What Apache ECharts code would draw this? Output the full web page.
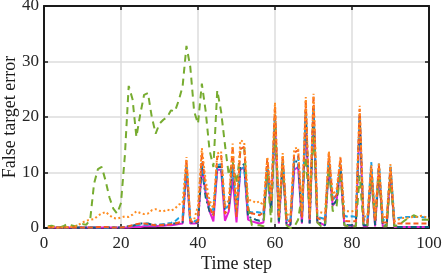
<!DOCTYPE html>
<html>
<head>
<meta charset="utf-8">
<script src="https://cdn.jsdelivr.net/npm/echarts@6/dist/echarts.min.js"></script>
<style>
html,body{margin:0;padding:0;background:#fff;}
#c{width:443px;height:276px;}
</style>
</head>
<body>
<div id="c"></div>
<script>
// Time steps 1..100
var steps = Array.from({length: 100}, function (_, i) { return i + 1; });

var xTicks = [0, 20, 40, 60, 80, 100];
var yTicks = [0, 10, 20, 30, 40];

// Magenta solid
var seriesM = [
  0.1,0.1,0.1,0.1,0.1,0.1,0.1,0.1,0.1,0.1,
  0.1,0.1,0.1,0.1,0.1,0.1,0.1,0.1,0.1,0.1,
  0.1,0.1,0.2,0.2,0.2,0.3,0.3,0.3,0.3,0.4,
  0.4,0.5,0.5,0.6,0.7,0.8,10.5,0.8,0.8,0.9,
  11.0,6.2,3.0,1.2,10.5,10.5,1.3,3.0,9.0,1.0,
  10.5,11.0,1.5,1.2,1.0,0.8,1.0,10.5,3.0,19.5,
  0.8,11.5,0.6,0.5,10.5,11.0,0.8,20.0,0.8,20.5,
  1.0,0.8,0.5,11.0,4.0,5.0,10.5,0.5,0.4,0.4,
  0.4,19.5,0.3,0.3,10.0,0.3,10.0,0.3,0.3,10.0,
  0.2,0.2,0.2,0.2,0.2,0.2,0.2,0.2,0.2,0.2
];
// Dark teal dash-dot
var seriesT = [
  0.1,0.1,0.1,0.1,0.1,0.1,0.1,0.1,0.1,0.1,
  0.1,0.1,0.1,0.1,0.1,0.1,0.1,0.1,0.1,0.1,
  0.2,0.3,0.4,0.6,0.8,0.8,0.8,0.6,0.6,0.6,
  0.6,0.7,0.8,0.8,0.9,1.0,11.0,1.0,0.9,1.0,
  11.0,5.5,3.0,2.5,11.0,11.0,3.4,3.5,11.5,3.0,
  11.0,11.5,2.0,1.8,1.5,1.3,1.5,11.0,3.0,20.0,
  1.0,12.0,0.8,0.6,12.0,12.0,1.0,21.0,0.8,21.5,
  1.0,0.8,0.5,12.0,4.0,5.0,11.0,0.7,0.5,0.5,
  0.5,20.0,0.5,0.5,10.5,0.5,10.8,0.5,0.5,10.5,
  0.3,0.2,0.2,0.2,0.2,0.2,0.2,0.2,0.2,0.2
];
// Light blue dashed
var seriesB = [
  0.1,0.1,0.1,0.1,0.1,0.1,0.1,0.1,0.1,0.1,
  0.1,0.1,0.1,0.1,0.1,0.1,0.1,0.1,0.1,0.1,
  0.2,0.3,0.4,0.5,0.6,0.6,0.6,0.5,0.5,0.6,
  0.7,0.8,0.9,1.2,1.8,2.0,11.4,1.5,1.2,1.5,
  12.0,6.5,4.0,3.2,11.3,11.5,3.5,4.0,11.2,2.8,
  10.5,11.0,3.0,2.8,2.9,2.8,2.6,11.2,5.0,20.5,
  2.0,12.2,1.5,1.4,12.5,12.8,2.0,21.2,1.8,21.6,
  2.0,1.8,1.6,12.0,5.0,6.0,11.6,2.2,2.0,2.1,
  2.0,20.3,1.5,1.5,11.9,1.5,11.6,1.5,1.4,11.3,
  1.5,1.8,1.9,2.0,2.0,2.0,2.0,2.0,1.9,1.9
];
// Green dashed
var seriesG = [
  0.3,0.4,0.2,0.1,0.3,0.7,0.5,0.3,0.5,0.7,
  0.6,1.5,8.0,10.6,11.0,8.5,5.5,3.5,2.6,4.5,
  13.0,25.6,23.2,16.4,20.5,24.0,24.3,20.0,17.0,18.8,
  19.5,20.0,21.2,21.0,23.0,25.5,32.8,29.0,21.0,18.8,
  26.0,21.0,14.0,11.0,24.8,21.0,15.0,9.5,12.0,8.0,
  13.8,14.5,4.0,0.5,0.5,0.5,0.3,10.0,1.0,19.0,
  1.8,11.5,0.5,0.0,0.2,1.5,6.0,12.8,3.0,18.0,
  1.0,0.3,0.5,11.0,3.0,4.0,10.0,0.5,0.3,0.3,
  0.3,9.5,0.3,0.5,9.0,1.0,9.5,0.3,0.3,9.0,
  0.3,0.5,1.0,1.5,1.8,2.3,2.0,1.5,1.5,1.5
];
// Red-orange dashed
var seriesR = [
  0.1,0.1,0.1,0.1,0.1,0.1,0.1,0.1,0.1,0.1,
  0.1,0.1,0.1,0.2,0.2,0.2,0.1,0.1,0.1,0.1,
  0.2,0.3,0.5,0.7,0.8,0.8,0.7,0.6,0.5,0.5,
  0.6,0.6,0.7,0.8,1.0,1.3,12.3,1.3,1.0,1.2,
  13.6,7.0,3.8,2.2,12.8,13.2,2.6,3.5,14.6,2.0,
  14.2,14.6,3.0,2.6,2.5,2.3,2.8,12.5,4.8,22.0,
  1.8,13.0,1.3,1.2,13.6,14.0,1.8,23.0,1.6,23.8,
  1.8,1.5,1.5,13.6,5.0,6.0,12.6,1.3,1.2,1.2,
  1.2,21.5,1.0,1.0,11.0,1.2,11.3,1.0,1.0,11.0,
  0.8,0.8,0.8,0.8,0.8,0.8,0.8,0.8,0.8,0.8
];
// Orange dotted
var seriesO = [
  0.2,0.2,0.1,0.1,0.1,0.2,0.2,0.3,0.6,1.0,
  1.3,1.5,1.6,2.2,2.6,2.9,2.3,1.8,1.7,1.9,
  2.1,2.0,2.4,3.0,2.7,2.5,2.6,3.2,3.4,3.1,
  3.0,3.3,3.1,3.5,4.2,4.5,12.8,1.6,1.5,4.0,
  14.4,8.5,5.0,3.5,13.4,13.8,4.0,5.0,15.2,3.5,
  15.8,15.5,5.0,5.0,4.5,4.8,4.0,12.8,5.5,22.6,
  2.5,13.5,2.5,2.2,14.3,14.5,3.0,23.6,2.5,24.2,
  3.0,2.8,2.6,13.8,6.0,7.0,12.8,3.0,3.0,3.0,
  3.2,22.0,2.0,2.2,11.3,2.0,11.8,2.0,2.0,11.5,
  1.2,1.5,1.8,1.8,1.9,2.0,2.0,2.2,2.0,1.8
];

function pairs(vals) {
  return steps.map(function (s, i) { return [s, vals[i]]; });
}

var FONT = '"Liberation Serif", serif';
var chart = echarts.init(document.getElementById('c'), null, {renderer: 'canvas'});

function mkSeries(name, vals, color, type, width) {
  return {
    name: name, type: 'line', data: pairs(vals), symbol: 'none',
    xAxisIndex: 0, yAxisIndex: 0,
    lineStyle: {color: color, width: width, type: type},
    animation: false
  };
}

var axisLineStyle = {show: true, onZero: false, lineStyle: {color: '#1a1a1a', width: 2}};
var tickStyle = {show: true, inside: true, length: 4, lineStyle: {color: '#1a1a1a', width: 1.5}};

chart.setOption({
  animation: false,
  textStyle: {fontFamily: FONT},
  grid: {left: 44, right: 14, top: 6, bottom: 48, containLabel: false, outerBoundsMode: 'none'},
  xAxis: [{
    type: 'value', min: xTicks[0], max: xTicks[xTicks.length - 1], interval: 20,
    position: 'bottom',
    name: 'Time step', nameLocation: 'middle', nameGap: 27, nameMoveOverlap: false,
    nameTextStyle: {fontFamily: FONT, fontSize: 18, color: '#1a1a1a'},
    axisLine: axisLineStyle,
    axisTick: tickStyle,
    axisLabel: {fontFamily: FONT, fontSize: 17, color: '#262626', margin: 7},
    splitLine: {show: true, lineStyle: {color: '#dcdcdc', width: 1.5}}
  }, {
    type: 'value', min: xTicks[0], max: xTicks[xTicks.length - 1], interval: 20,
    position: 'top',
    axisLine: axisLineStyle,
    axisTick: tickStyle,
    axisLabel: {show: false},
    splitLine: {show: false}
  }],
  yAxis: [{
    type: 'value', min: yTicks[0], max: yTicks[yTicks.length - 1], interval: 10,
    position: 'left',
    name: 'False target error', nameLocation: 'middle', nameGap: 25, nameMoveOverlap: false,
    nameTextStyle: {fontFamily: FONT, fontSize: 18, color: '#1a1a1a'},
    axisLine: axisLineStyle,
    axisTick: tickStyle,
    axisLabel: {fontFamily: FONT, fontSize: 17, color: '#262626', margin: 5},
    splitLine: {show: true, lineStyle: {color: '#dcdcdc', width: 1.5}}
  }, {
    type: 'value', min: yTicks[0], max: yTicks[yTicks.length - 1], interval: 10,
    position: 'right',
    axisLine: axisLineStyle,
    axisTick: tickStyle,
    axisLabel: {show: false},
    splitLine: {show: false}
  }],
  series: [
    mkSeries('M', seriesM, '#e31fd1', 'solid', 2),
    mkSeries('T', seriesT, '#0e5f7e', [6, 3, 2, 3], 2),
    mkSeries('B', seriesB, '#1ba1e2', [5, 3], 2),
    mkSeries('G', seriesG, '#77ac30', [7, 5], 2),
    mkSeries('R', seriesR, '#f65a1f', [5, 3], 2),
    mkSeries('O', seriesO, '#ff8c21', [2, 2.5], 2)
  ]
});
</script>
</body>
</html>
